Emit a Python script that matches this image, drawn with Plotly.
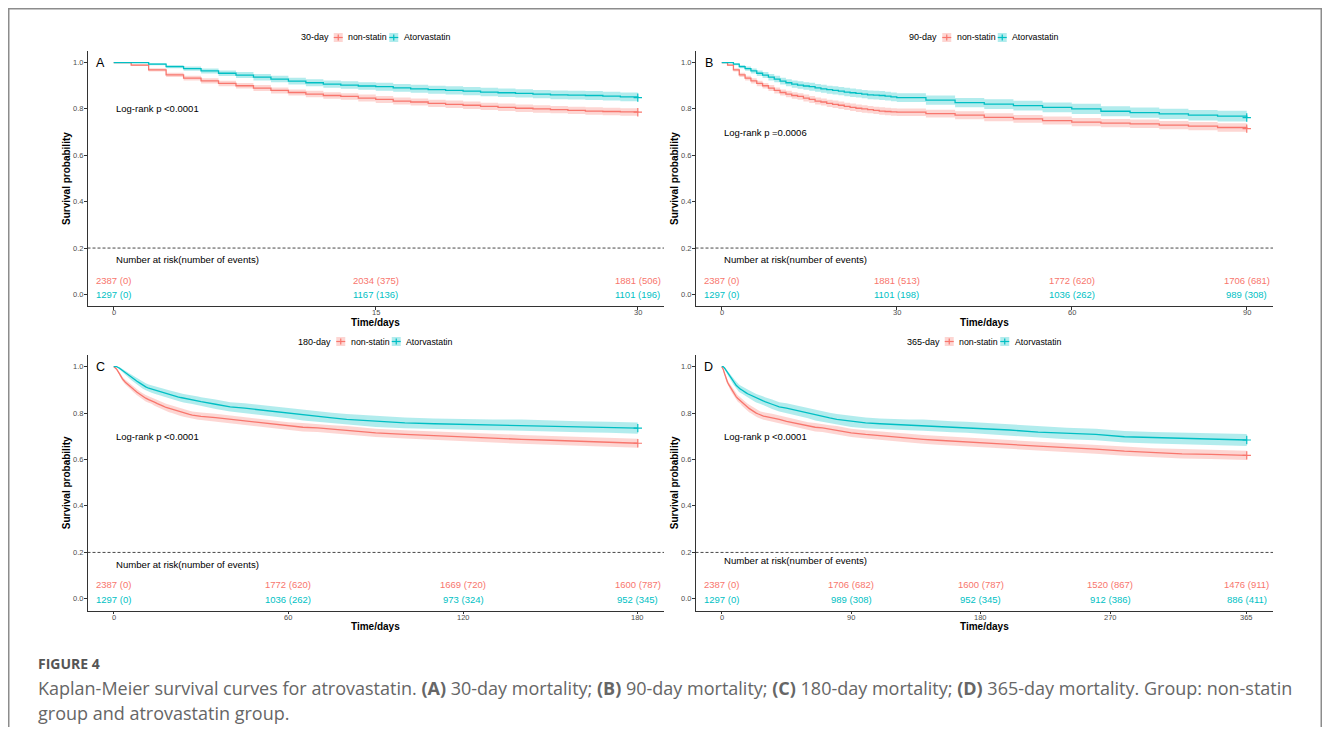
import plotly.graph_objects as go

# the page body has an 8px margin, so the figure is sized to fit inside the window
WIN_W, WIN_H = 1330, 735
OFF = 8
FW, FH = WIN_W - 2 * OFF, WIN_H - 2 * OFF

# ---------------- data ----------------
days = [0, 1, 2, 3, 4, 5, 6, 7, 8, 9, 10, 11, 12, 13, 14, 15, 16, 17, 18, 19, 20,
        21, 22, 23, 24, 25, 26, 27, 28, 29, 30,
        35, 40, 45, 50, 55, 60, 65, 70, 75, 80, 85, 90,
        100, 110, 120, 130, 140, 150, 160, 170, 180,
        200, 220, 240, 260, 280, 300, 320, 340, 365]

surv_nonstatin = [1.000, 0.989, 0.969, 0.947, 0.933, 0.921, 0.910, 0.900, 0.890, 0.880, 0.871,
                  0.864, 0.858, 0.854, 0.847, 0.841, 0.834, 0.830, 0.824, 0.820, 0.816,
                  0.811, 0.807, 0.803, 0.800, 0.797, 0.794, 0.791, 0.789, 0.787, 0.786,
                  0.780, 0.773, 0.764, 0.757, 0.750, 0.743, 0.739, 0.736, 0.730, 0.726, 0.720, 0.715,
                  0.708, 0.702, 0.697, 0.692, 0.687, 0.683, 0.679, 0.674, 0.670,
                  0.665, 0.658, 0.652, 0.645, 0.636, 0.629, 0.624, 0.622, 0.618]

surv_atorva = [1.000, 1.000, 0.993, 0.983, 0.974, 0.964, 0.954, 0.946, 0.937, 0.929, 0.920,
               0.913, 0.907, 0.903, 0.899, 0.896, 0.891, 0.887, 0.883, 0.880, 0.877,
               0.873, 0.870, 0.867, 0.864, 0.861, 0.860, 0.858, 0.855, 0.852, 0.849,
               0.838, 0.827, 0.821, 0.814, 0.807, 0.800, 0.790, 0.784, 0.779, 0.773, 0.769, 0.763,
               0.758, 0.754, 0.751, 0.749, 0.748, 0.743, 0.741, 0.739, 0.735,
               0.727, 0.718, 0.712, 0.708, 0.698, 0.694, 0.691, 0.688, 0.684]

# half-width of the 95% confidence band, read from the shaded ribbons
ci_nonstatin = [0.000, 0.004, 0.007, 0.009, 0.010, 0.011, 0.012, 0.012, 0.013, 0.013, 0.013,
                0.014, 0.014, 0.014, 0.015, 0.015, 0.015, 0.015, 0.016, 0.016, 0.016,
                0.016, 0.016, 0.016, 0.016, 0.016, 0.016, 0.016, 0.016, 0.016, 0.016,
                0.017, 0.017, 0.017, 0.017, 0.017, 0.018, 0.018, 0.018, 0.018, 0.018, 0.018, 0.018,
                0.018, 0.018, 0.019, 0.019, 0.019, 0.019, 0.019, 0.019, 0.019,
                0.019, 0.019, 0.019, 0.020, 0.020, 0.020, 0.020, 0.020, 0.020]

ci_atorva = [0.000, 0.000, 0.005, 0.007, 0.009, 0.011, 0.012, 0.013, 0.014, 0.014, 0.015,
             0.015, 0.016, 0.016, 0.016, 0.017, 0.017, 0.017, 0.017, 0.018, 0.018,
             0.018, 0.018, 0.018, 0.018, 0.019, 0.019, 0.019, 0.019, 0.019, 0.019,
             0.020, 0.020, 0.021, 0.021, 0.021, 0.022, 0.022, 0.022, 0.022, 0.023, 0.023, 0.023,
             0.023, 0.023, 0.023, 0.023, 0.024, 0.024, 0.024, 0.024, 0.024,
             0.024, 0.025, 0.025, 0.025, 0.025, 0.025, 0.026, 0.026, 0.026]

panel_letters = ["A", "B", "C", "D"]
panel_horizon = [30, 90, 180, 365]
panel_legend_title = ["30-day", "90-day", "180-day", "365-day"]
logrank_text = ["Log-rank p <0.0001", "Log-rank p =0.0006", "Log-rank p <0.0001", "Log-rank p <0.0001"]
logrank_y = [0.8, 0.7, 0.7, 0.7]

risk_times = [[0, 15, 30], [0, 30, 60, 90], [0, 60, 120, 180], [0, 90, 180, 270, 365]]
risk_n_nonstatin = [[2387, 2034, 1881], [2387, 1881, 1772, 1706], [2387, 1772, 1669, 1600],
                    [2387, 1706, 1600, 1520, 1476]]
risk_ev_nonstatin = [[0, 375, 506], [0, 513, 620, 681], [0, 620, 720, 787], [0, 682, 787, 867, 911]]
risk_n_atorva = [[1297, 1167, 1101], [1297, 1101, 1036, 989], [1297, 1036, 973, 952],
                 [1297, 989, 952, 912, 886]]
risk_ev_atorva = [[0, 136, 196], [0, 198, 262, 308], [0, 262, 324, 345], [0, 308, 345, 386, 411]]
risk_title_y = [0.15, 0.15, 0.15, 0.167]

y_ticks = [0.0, 0.2, 0.4, 0.6, 0.8, 1.0]
y_tick_labels = ["0.0", "0.2", "0.4", "0.6", "0.8", "1.0"]

group_names = ["non-statin", "Atorvastatin"]
RED, CYAN = "#F8766D", "#00BFC4"
RED_F, CYAN_F = "rgba(248,118,109,0.30)", "rgba(0,191,196,0.30)"

# ---------------- layout geometry (window pixels) ----------------
panels_px = [(87.5, 664, 51, 306), (695.5, 1273, 51, 306),
             (87.5, 664, 355, 610.5), (695.5, 1273, 355, 610.5)]
line_shapes = ["hv", "hv", "linear", "linear"]

FONT = "Liberation Sans, Arial, sans-serif"
TICK_COL = "#4d4d4d"


def px(x):
    return (x - OFF) / FW


def py(y):
    return 1 - (y - OFF) / FH


fig = go.Figure()
annotations = []
shapes = []

for i in range(4):
    L, R, T, B = panels_px[i]
    ax = "" if i == 0 else str(i + 1)
    xa, ya = "x" + ax, "y" + ax
    hz = panel_horizon[i]
    idx = [k for k, d in enumerate(days) if d <= hz]
    xs = [days[k] for k in idx]
    for s_arr, c_arr, col, fcol in [(surv_nonstatin, ci_nonstatin, RED, RED_F),
                                    (surv_atorva, ci_atorva, CYAN, CYAN_F)]:
        up = [min(1.0, s_arr[k] + c_arr[k]) for k in idx]
        lo = [s_arr[k] - c_arr[k] for k in idx]
        fig.add_trace(go.Scatter(x=xs, y=up, xaxis=xa, yaxis=ya, mode="lines",
                                 line=dict(width=0, shape=line_shapes[i], color=fcol),
                                 showlegend=False, hoverinfo="skip"))
        fig.add_trace(go.Scatter(x=xs, y=lo, xaxis=xa, yaxis=ya, mode="lines", fill="tonexty",
                                 fillcolor=fcol, line=dict(width=0, shape=line_shapes[i], color=fcol),
                                 showlegend=False, hoverinfo="skip"))
    for s_arr, col, name in [(surv_nonstatin, RED, group_names[0]), (surv_atorva, CYAN, group_names[1])]:
        s = [s_arr[k] for k in idx]
        fig.add_trace(go.Scatter(x=xs, y=s, xaxis=xa, yaxis=ya, mode="lines", name=name,
                                 line=dict(width=1.3, color=col, shape=line_shapes[i]),
                                 showlegend=False))
        fig.add_trace(go.Scatter(x=[xs[-1]], y=[s[-1]], xaxis=xa, yaxis=ya, mode="markers",
                                 marker=dict(symbol="cross-thin", size=6, line=dict(width=1.2, color=col)),
                                 showlegend=False, hoverinfo="skip"))

    pad = 0.05 * hz
    axis_common = dict(showline=True, linecolor="#333333", linewidth=1, ticks="outside",
                       ticklen=2.5, tickcolor="#333333", tickwidth=1, showgrid=False, zeroline=False,
                       showticklabels=False)
    fig.update_layout(**{
        ("xaxis" + ax): dict(domain=[px(L), px(R)], range=[-pad, hz + pad], anchor=ya,
                             tickvals=risk_times[i], **axis_common),
        ("yaxis" + ax): dict(domain=[py(B), py(T)], range=[-0.05, 1.05], anchor=xa,
                             tickvals=y_ticks, **axis_common),
    })

    # tick labels
    for t in risk_times[i]:
        annotations.append(dict(text=str(t), xref=xa, x=t, yref="paper", y=py(B + 6.5),
                                showarrow=False, xanchor="center", yanchor="middle",
                                font=dict(family=FONT, size=7.5, color=TICK_COL)))
    for v, lab in zip(y_ticks, y_tick_labels):
        annotations.append(dict(text=lab, xref="paper", x=px(L - 3), yref=ya, y=v,
                                showarrow=False, xanchor="right", yanchor="middle",
                                font=dict(family=FONT, size=7.5, color=TICK_COL)))

    # dashed separator at 0.2
    shapes.append(dict(type="line", xref=xa + " domain", x0=0, x1=1, yref=ya, y0=0.2, y1=0.2,
                       line=dict(color="#333333", width=0.9, dash="3px,2px")))

    # panel letter
    annotations.append(dict(text=panel_letters[i], xref="paper", x=px(L + 13), yref=ya, y=1.0,
                            showarrow=False, xanchor="center", yanchor="middle",
                            font=dict(family=FONT, size=12.5, color="#000000")))
    # log-rank
    annotations.append(dict(text=logrank_text[i], xref=xa, x=0, yref=ya, y=logrank_y[i],
                            showarrow=False, xanchor="left", yanchor="middle",
                            font=dict(family=FONT, size=9.5, color="#000000")))
    # number-at-risk title
    annotations.append(dict(text="Number at risk(number of events)", xref=xa, x=0, yref=ya,
                            y=risk_title_y[i], showarrow=False, xanchor="left", yanchor="middle",
                            font=dict(family=FONT, size=9.6, color="#000000")))
    for t, n1, e1, n2, e2 in zip(risk_times[i], risk_n_nonstatin[i], risk_ev_nonstatin[i],
                                 risk_n_atorva[i], risk_ev_atorva[i]):
        annotations.append(dict(text=f"{n1} ({e1})", xref=xa, x=t, yref=ya, y=0.06, showarrow=False,
                                xanchor="center", yanchor="middle",
                                font=dict(family=FONT, size=9.5, color=RED)))
        annotations.append(dict(text=f"{n2} ({e2})", xref=xa, x=t, yref=ya, y=-0.002, showarrow=False,
                                xanchor="center", yanchor="middle",
                                font=dict(family=FONT, size=9.5, color=CYAN)))
    # axis titles
    annotations.append(dict(text="<b>Survival probability</b>", xref="paper", x=px(L - 21),
                            yref="paper", y=py((T + B) / 2), textangle=-90, showarrow=False,
                            xanchor="center", yanchor="middle",
                            font=dict(family=FONT, size=10, color="#000000")))
    annotations.append(dict(text="<b>Time/days</b>", xref="paper", x=px((L + R) / 2),
                            yref="paper", y=py(B + 16), showarrow=False,
                            xanchor="center", yanchor="middle",
                            font=dict(family=FONT, size=10, color="#000000")))

    # legend drawn on top of each panel
    cx = (L + R) / 2
    ly = T - 13.5
    sh = 0 if i < 2 else 2.5
    annotations.append(dict(text=panel_legend_title[i], xref="paper", x=px(cx - 45 + sh),
                            yref="paper", y=py(ly), showarrow=False, xanchor="right",
                            yanchor="middle", font=dict(family=FONT, size=9, color="#000000")))
    for (k0, k1, tx, col, fcol, name) in [(-42, -33, -29.5, RED, RED_F, group_names[0]),
                                          (13.5, 22.5, 26.0, CYAN, CYAN_F, group_names[1])]:
        shapes.append(dict(type="rect", xref="paper", yref="paper", x0=px(cx + k0 + sh),
                           x1=px(cx + k1 + sh), y0=py(ly + 4.5), y1=py(ly - 4.5),
                           fillcolor=fcol, line=dict(width=0)))
        shapes.append(dict(type="line", xref="paper", yref="paper", x0=px(cx + k0 + sh),
                           x1=px(cx + k1 + sh), y0=py(ly), y1=py(ly), line=dict(color=col, width=1.2)))
        mid = cx + (k0 + k1) / 2 + sh
        shapes.append(dict(type="line", xref="paper", yref="paper", x0=px(mid), x1=px(mid),
                           y0=py(ly - 3), y1=py(ly + 3), line=dict(color=col, width=1.2)))
        annotations.append(dict(text=name, xref="paper", x=px(cx + tx + sh), yref="paper", y=py(ly),
                                showarrow=False, xanchor="left", yanchor="middle",
                                font=dict(family=FONT, size=8.8, color="#000000")))

# frame of the figure card (as close to the window edge as the page allows)
shapes.append(dict(type="rect", xref="paper", yref="paper", x0=px(8.75), x1=px(1321.25),
                   y0=py(760), y1=py(8.75), line=dict(color="#8c8c8c", width=1.5),
                   fillcolor="rgba(0,0,0,0)"))

# caption
CAP = "Open Sans, Lato, sans-serif"
annotations.append(dict(text="<b>FIGURE 4</b>", xref="paper", x=px(36), yref="paper", y=py(663),
                        showarrow=False, xanchor="left", yanchor="middle",
                        font=dict(family=CAP, size=14, color="#555555")))
annotations.append(dict(text="Kaplan-Meier survival curves for atrovastatin. <b>(A)</b> 30-day mortality; "
                             "<b>(B)</b> 90-day mortality; <b>(C)</b> 180-day mortality; <b>(D)</b> "
                             "365-day mortality. Group: non-statin",
                        xref="paper", x=px(36), yref="paper", y=py(688), showarrow=False,
                        xanchor="left", yanchor="middle",
                        font=dict(family=CAP, size=18, color="#666666")))
annotations.append(dict(text="group and atrovastatin group.", xref="paper", x=px(36), yref="paper",
                        y=py(713), showarrow=False, xanchor="left", yanchor="middle",
                        font=dict(family=CAP, size=18, color="#666666")))

fig.update_layout(width=FW, height=FH, margin=dict(l=0, r=0, t=0, b=0),
                  paper_bgcolor="white", plot_bgcolor="white", showlegend=False,
                  annotations=annotations, shapes=shapes,
                  font=dict(family=FONT))

fig.write_html("out.html")
